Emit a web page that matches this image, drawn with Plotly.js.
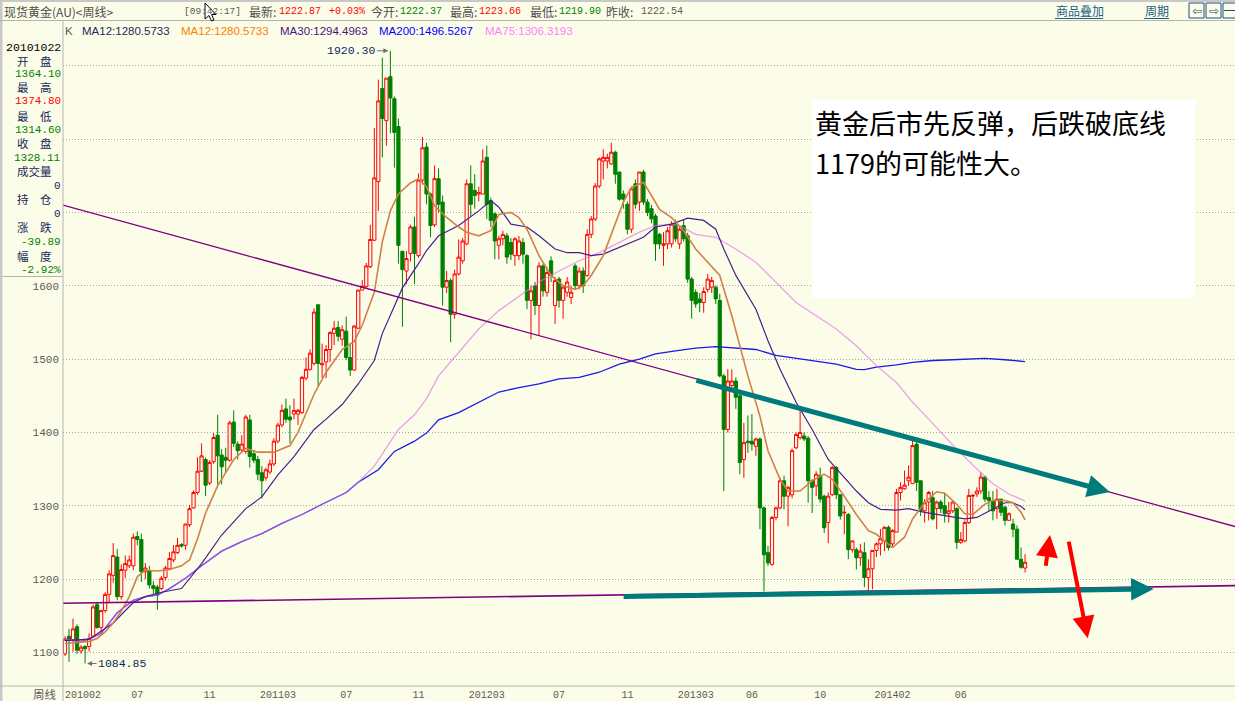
<!DOCTYPE html>
<html><head><meta charset="utf-8">
<script src="https://cdn.plot.ly/plotly-3.0.1.min.js"></script>
<style>html,body{margin:0;padding:0;background:#fcfde9;}#chart{width:1235px;height:701px;}</style>
</head><body><div id="chart"></div>
<script>
// ---------- weekly OHLC (spot gold, from 2010-02-26 onwards) ----------
const openP = [
1098,1122,1117,1135,1102,1108,1108,1122,1165,1134,
1157,1179,1205,1230,1176,1212,1218,1218,1258,1254,
1210,1211,1191,1189,1187,1202,1214,1226,1236,1247,
1246,1274,1297,1318,1347,1363,1331,1360,1396,1369,
1366,1362,1414,1384,1376,1374,1417,1371,1363,1345,
1338,1346,1357,1388,1410,1432,1421,1425,1425,1427,
1474,1486,1494,1574,1492,1496,1513,1535,1543,1527,
1538,1502,1485,1542,1594,1599,1626,1662,1742,1869,
1825,1885,1855,1817,1647,1620,1644,1680,1641,1744,
1789,1725,1683,1746,1714,1598,1607,1561,1616,1634,
1657,1739,1730,1725,1725,1775,1716,1698,1655,1664,
1668,1659,1641,1641,1659,1641,1580,1600,1573,1627,
1591,1634,1573,1609,1580,1591,1584,1627,1600,1620,
1614,1670,1691,1736,1770,1770,1766,1782,1755,1725,
1711,1677,1739,1714,1755,1714,1705,1695,1670,1655,
1657,1657,1684,1657,1682,1668,1609,1591,1582,1577,
1595,1598,1598,1580,1477,1404,1464,1470,1450,1363,
1388,1388,1381,1391,1297,1236,1220,1284,1297,1334,
1313,1315,1379,1393,1395,1392,1334,1327,1341,1313,
1277,1315,1352,1315,1290,1288,1240,1240,1229,1236,
1202,1214,1239,1248,1252,1270.5,1248,1264,1318,1323,
1334,1330,1384,1334,1293,1305,1311,1296,1305,1300,
1289,1293,1296,1250,1252,1277,1313,1316,1320,1339,
1311,1307,1296,1309,1298,1280,1275,1268,1227,1215];
const highP = [
1122,1132,1146,1138,1110,1110,1126,1165,1168,1158,
1182,1212,1249,1241,1220,1232,1232,1262,1265,1262,
1222,1218,1197,1192,1204,1218,1237,1246,1256,1249,
1275,1301,1321,1366,1385,1366,1362,1399,1424,1377,
1379,1416,1430,1388,1396,1424,1424,1376,1368,1354,
1352,1363,1392,1413,1438,1446,1437,1446,1432,1477,
1502,1513,1569,1574,1521,1519,1538,1552,1552,1546,
1558,1521,1546,1594,1608,1631,1683,1815,1881,1911,
1883,1920.3,1858,1828,1647,1647,1683,1694,1753,1803,
1795,1727,1764,1760,1723,1620,1610,1622,1663,1665,
1745,1764,1752,1735,1786,1791,1720,1700,1668,1675,
1672,1665,1666,1668,1665,1643,1600,1605,1632,1630,
1625,1640,1612,1612,1600,1612,1600,1630,1625,1625,
1677,1695,1740,1775,1786,1780,1795,1784,1755,1730,
1715,1735,1745,1755,1758,1718,1710,1698,1672,1673,
1680,1688,1690,1680,1690,1672,1612,1595,1590,1598,
1616,1612,1600,1589,1480,1486,1486,1475,1452,1413,
1423,1425,1393,1393,1299,1245,1286,1299,1338,1341,
1327,1378,1400,1434,1400,1395,1336,1347,1352,1315,
1318,1354,1354,1315,1300,1290,1252,1243,1248,1250,
1227,1239,1250,1268,1272,1273,1268,1323,1332,1348,
1355,1389,1391,1334,1309,1320,1320,1307,1308,1316,
1305,1306,1298,1264,1280,1323,1316,1325,1345.5,1341,
1320,1320,1323,1309,1300,1291,1282,1273,1243,1234];
const lowP = [
1095,1087,1101,1098,1098,1084.85,1101,1120,1132,1126,
1154,1168,1195,1171,1172,1201,1215,1212,1246,1196,
1200,1187,1180,1158,1185,1198,1212,1223,1234,1243,
1240,1271,1296,1315,1346,1313,1328,1357,1329,1329,
1346,1360,1380,1363,1372,1371,1352,1358,1335,1310,
1334,1343,1354,1385,1407,1413,1385,1418,1410,1425,
1471,1484,1491,1463,1474,1474,1496,1519,1524,1518,
1499,1477,1484,1541,1594,1597,1624,1661,1702,1775,
1791,1808,1761,1630,1544,1602,1633,1602,1638,1738,
1711,1666,1680,1700,1573,1590,1523,1555,1614,1630,
1655,1695,1705,1715,1725,1691,1680,1636,1636,1655,
1630,1635,1627,1635,1630,1568,1527,1560,1532,1585,
1585,1605,1548,1570,1555,1585,1575,1595,1595,1590,
1612,1665,1688,1733,1745,1760,1765,1739,1716,1705,
1670,1672,1705,1702,1710,1695,1685,1634,1650,1627,
1650,1652,1660,1650,1660,1604,1555,1570,1564,1563,
1591,1590,1575,1475,1320,1400,1455,1432,1343,1338,
1372,1375,1368,1268,1183,1218,1218,1280,1295,1295,
1272,1310,1377,1390,1388,1304,1290,1313,1304,1263,
1249,1313,1309,1281,1261,1227,1236,1213,1218,1189,
1184,1186,1230,1232,1238,1239,1245,1264,1307,1322,
1327,1330,1320,1286,1277,1280,1280,1268,1290,1277,
1277,1290,1241,1248,1250,1275,1282,1312,1316,1305,
1293,1280,1282,1286,1273,1280,1257,1227,1214,1209];
const closeP = [
1118,1118,1132,1103,1107,1105,1119,1162,1134,1157,
1179,1207,1232,1176,1213,1221,1226,1257,1254,1210,
1215,1192,1187,1178,1201,1215,1228,1237,1246,1245,
1275,1296,1318,1347,1368,1328,1359,1393,1368,1353,
1362,1413,1385,1375,1384,1421,1367,1362,1343,1334,
1349,1357,1388,1410,1430,1418,1417,1430,1430,1475,
1486,1508,1564,1494,1494,1513,1536,1542,1531,1540,
1502,1485,1545,1594,1599,1627,1663,1747,1852,1828,
1883,1856,1809,1655,1622,1637,1680,1644,1744,1788,
1725,1682,1746,1711,1598,1607,1561,1616,1639,1661,
1739,1711,1723,1727,1770,1711,1689,1661,1664,1670,
1639,1643,1664,1661,1643,1580,1593,1573,1627,1593,
1618,1614,1607,1580,1598,1605,1591,1600,1620,1600,
1670,1691,1736,1773,1775,1775,1782,1752,1718,1718,
1677,1732,1711,1755,1714,1700,1691,1657,1657,1657,
1675,1684,1664,1677,1664,1609,1580,1575,1577,1592,
1609,1607,1582,1477,1404,1470,1470,1448,1359,1386,
1386,1384,1391,1297,1233,1222,1284,1297,1334,1313,
1325,1375,1397,1400,1391,1334,1325,1343,1309,1270,
1313,1352,1315,1286,1291,1240,1252,1229,1238,1202,
1214,1239,1248,1255,1270.5,1243,1266,1318,1325,1328,
1339,1382,1332,1293,1304,1318,1282,1305,1296,1289,
1293,1305,1250,1254,1277,1314,1314,1320,1339,1309,
1307,1293,1309,1291,1280,1289,1268,1227,1216,1222.87];

// ---------- moving averages: [week, value] ----------
const ma12Pts = [[0,1112],[3,1113],[6,1115],[8,1119],[10,1128],[12,1140],[14,1156],[16,1176],[18,1203],[20,1212],[23,1211],[26,1213],[29,1218],[31,1226],[33,1255],[35,1290],[38,1327],[42,1363],[45,1378],[48,1373],[52,1373],[56,1382],[58,1400],[62,1452],[65,1482],[69,1513],[72,1524],[74,1546],[77,1591],[79,1660],[81,1702],[83,1725],[86,1740],[88,1746],[90,1735],[92,1709],[95,1693],[98,1680],[100,1673],[103,1668],[106,1675],[108,1697],[111,1700],[113,1693],[115,1677],[118,1641],[121,1614],[124,1600],[127,1595],[129,1600],[131,1614],[134,1641],[137,1686],[139,1714],[141,1734],[144,1741],[146,1723],[148,1704],[151,1693],[154,1675],[157,1650],[160,1632],[163,1614],[166,1559],[170,1477],[173,1422],[175,1375],[178,1336],[180,1320],[183,1320],[186,1334],[189,1343],[191,1336],[194,1313],[197,1288],[200,1266],[202,1261],[206,1243],[209,1257],[211,1282],[214,1304],[217,1319],[219,1317],[222,1302],[224,1289],[226,1288],[229,1302],[231,1307],[234,1307],[236,1304],[238,1291],[239,1280.57]];
const ma30Pts = [[0,1116],[6,1118],[12,1140],[17,1168],[20,1176],[24,1182],[29,1187],[34,1221],[39,1260],[45,1296],[49,1312],[53,1342],[57,1367],[62,1404],[65,1418],[69,1438],[73,1466],[77,1498],[79,1535],[82,1571],[84,1597],[88,1630],[90,1648],[93,1668],[98,1682],[103,1702],[106,1716],[108,1707],[111,1684],[115,1680],[118,1668],[122,1650],[125,1645],[128,1645],[131,1641],[134,1643],[137,1650],[140,1657],[144,1666],[147,1680],[151,1684],[155,1692],[159,1689],[162,1677],[164,1650],[167,1614],[172,1568],[175,1525],[178,1486],[182,1441],[186,1404],[190,1363],[193,1345],[197,1320],[200,1304],[203,1295],[207,1294],[210,1296],[214,1291],[219,1287],[224,1282],[227,1284],[231,1295],[234,1304],[236,1304],[238,1299],[239,1294.5]];
const ma75Pts = [[0,1118],[4,1115],[6,1118],[9,1126],[13,1154],[17,1171],[20,1176],[23,1178],[26,1187],[30,1201],[34,1218],[39,1238],[44,1251],[49,1262],[54,1276],[59,1288],[64,1302],[67,1310],[70,1318],[73,1332],[77,1354],[80,1379],[83,1404],[87,1424],[90,1446],[93,1477],[98,1509],[103,1541],[108,1566],[113,1586],[118,1605],[123,1620],[128,1634],[133,1645],[138,1659],[143,1673],[147,1682],[151,1684],[153,1682],[157,1670],[162,1666],[167,1650],[172,1632],[177,1605],[182,1577],[187,1559],[192,1541],[197,1518],[202,1491],[207,1468],[211,1441],[215,1418],[222,1377],[227,1350],[231,1330],[235,1316],[239,1306.3]];
const ma200Pts = [[0,1118],[4,1115],[6,1118],[9,1126],[13,1154],[17,1171],[20,1176],[23,1178],[26,1187],[30,1201],[34,1218],[39,1238],[44,1251],[49,1262],[54,1276],[59,1288],[64,1302],[67,1310],[70,1318],[73,1332],[78,1349],[82,1374],[87,1388],[90,1399],[93,1417],[98,1427],[103,1441],[108,1455],[113,1461],[118,1466],[123,1473],[128,1475],[133,1482],[138,1493],[143,1500],[147,1507],[152,1511],[157,1515],[162,1517],[167,1515],[172,1513],[177,1505],[182,1501],[187,1498],[192,1493],[197,1486],[199,1485.5],[202,1489],[207,1492],[211,1495.5],[216,1498],[221,1499],[226,1500],[229,1501],[234,1499],[239,1496.5]];

// ---------- hand-drawn lines (week, price) ----------
const resistanceX = [-0.5, 291.3], resistanceY = [1709.8, 1271.6];
const supportX = [-0.5, 291.3], supportY = [1166.9, 1191.0];
const upperArrowX = [156.8, 260.1], upperArrowY = [1471.4, 1318.7];
const lowerArrowX = [138.7, 271.0], lowerArrowY = [1176.2, 1186.4];
const redUpX = [244.1, 245.2], redUpY = [1216, 1260];
const redDownX = [249.8, 254.6], redDownY = [1253.2, 1119.2];

// ---------- axes ----------
const monthTickWeeks = [4.5,18,36,53,70,88,105,123,140,157,171,188,206,223];
const monthTickLabels = ['201002','07','11','201103','07','11','201203','07','11','201303','06','10','201402','06'];
const priceTicks = [1100,1200,1300,1400,1500,1600,1700,1800,1900];
const priceTickLabels = ['1100','1200','1300','1400','1500','1600','','',''];

// ---------- texts ----------
const legendItems = [['K','#5a5a5a'],['MA12:1280.5733','#1b2a5e'],['MA12:1280.5733','#ff8000'],['MA30:1294.4963','#4a1480'],['MA200:1496.5267','#0000ff'],['MA75:1306.3193','#ff80ff']];
const infoRows = [['20101022','#000000','num'],['开　盘','#14285a','lab'],['1364.10','#008000','num'],['最　高','#14285a','lab'],['1374.80','#ff0000','num'],['最　低','#14285a','lab'],['1314.60','#008000','num'],['收　盘','#14285a','lab'],['1328.11','#008000','num'],['成交量','#14285a','lab'],['0','#14285a','num'],['持　仓','#14285a','lab'],['0','#14285a','num'],['涨　跌','#14285a','lab'],['-39.89','#008000','num'],['幅　度','#14285a','lab'],['-2.92%','#008000','num']];
const commentLines = ['黄金后市先反弹，后跌破底线','1179的可能性大。'];

// =====================================================================
const W = 1235, H = 701, BG = '#fcfde9';
const MONO = '"Liberation Mono","DejaVu Sans Mono",monospace';
const CJK = '"Noto Sans CJK SC","Noto Sans",sans-serif';
const SANS = '"Liberation Sans",Arial,sans-serif';
const PX = x => x / W, PY = y => 1 - y / H;
const plotTop = 21, plotBottom = 686, plotLeft = 63;
const weeks = openP.map((_, i) => i);

const annotations = [];
const shapes = [];
function txt(text, x, y, family, size, color, anchor) {
  annotations.push({xref:'paper', yref:'paper', x:PX(x), y:PY(y), text:text, showarrow:false,
    xanchor:anchor || 'left', yanchor:'middle', borderpad:0,
    font:{family:family, size:size, color:color}});
}
function rect(x0,y0,x1,y1,fill,line,layer){
  shapes.push({type:'rect', xref:'paper', yref:'paper', x0:PX(x0), x1:PX(x1), y0:PY(y0), y1:PY(y1),
    fillcolor:fill, line:{color:line||'rgba(0,0,0,0)', width:line?1:0}, layer:layer||'above'});
}
function hline(x0,x1,y,color){ shapes.push({type:'line', xref:'paper', yref:'paper', x0:PX(x0), x1:PX(x1), y0:PY(y), y1:PY(y), line:{color:color, width:1}}); }
function vline(x,y0,y1,color){ shapes.push({type:'line', xref:'paper', yref:'paper', x0:PX(x), x1:PX(x), y0:PY(y0), y1:PY(y1), line:{color:color, width:1}}); }

// frame
rect(0,0,W,2,'#c8c8c8');
rect(0,0,2.5,H,'#c8c8c8');
hline(0,W,20.5,'#b4b4b4');
vline(63,21,H,'#b4b4b4');
hline(2.5,63,276.5,'#b4b4b4');
hline(0,W,686,'#b4b4b4');
// comment box
rect(812,100,1195,298,'#ffffff',null,'above');

// header
const gray='#4e4e4e', red='#ff0000', green='#008000';
txt('现货黄金(AU)&lt;周线&gt;',3,11.5,CJK,12,gray);
txt('[09:42:17]',183,11.5,MONO,9.5,'#5a5a5a');
txt('最新:',248,11.5,CJK,12,gray); txt('1222.87',278,11.5,MONO,10,red); txt('+0.03%',328,11.5,MONO,10,red);
txt('今开:',370,11.5,CJK,12,gray); txt('1222.37',399,11.5,MONO,10,green);
txt('最高:',449,11.5,CJK,12,gray); txt('1223.66',478,11.5,MONO,10,red);
txt('最低:',529,11.5,CJK,12,gray); txt('1219.90',558,11.5,MONO,10,green);
txt('昨收:',605,11.5,CJK,12,gray); txt('1222.54',640,11.5,MONO,10,'#5a5a5a');
txt('商品叠加',1055,11,CJK,12,'#1a5f8c'); hline(1055,1103,18.5,'#1a5f8c');
txt('周期',1144,11,CJK,12,'#1a5f8c'); hline(1144,1169,18.5,'#1a5f8c');
rect(1189,3,1204,18,'rgba(0,0,0,0)','#1f4f7f'); rect(1206,3,1221,18,'rgba(0,0,0,0)','#1f4f7f'); rect(1223,3,1236,18,'rgba(0,0,0,0)','#1f4f7f');
txt('⇦',1196.5,10.5,'"DejaVu Sans"',12,'#1f4f7f','center'); txt('⇨',1213.5,10.5,'"DejaVu Sans"',12,'#1f4f7f','center');
hline(1224,1236,10.5,'#1f4f7f');
// mouse cursor
const cur = [[205,3],[205,19],[209,15.5],[211.5,21],[214,20],[211.5,14.5],[216,14.5]];
shapes.push({type:'path', xref:'paper', yref:'paper', path:'M'+cur.map(p=>PX(p[0])+','+PY(p[1])).join(' L')+' Z', fillcolor:'#ffffff', line:{color:'#000000', width:1}});

// MA legend row
const legendX = [64,81,180,279,378,484];
legendItems.forEach((it,k)=>txt(it[0],legendX[k],31.5,SANS,11.5,it[1]));

// info panel
const rowY = [47.3,60.7,74,87.3,101.5,115.7,130,143.3,157.8,170.7,186,199,214.3,227.3,242.2,255.7,270.5];
infoRows.forEach((r,k)=>{
  if(r[2]==='lab') txt(r[0],34,rowY[k],CJK,11.5,r[1],'center');
  else txt(r[0],61.5,rowY[k],MONO,k===0?11.5:11,r[1],'right');
});
txt('周线',58,694,CJK,11.5,'#5a5a5a','right');

// comment text
txt(commentLines[0],814,122.5,CJK,27,'#000000');
txt(commentLines[1],814,162.5,CJK,27,'#000000');

// extreme labels
const hiIdx = highP.indexOf(Math.max(...highP));
const loIdx = lowP.indexOf(Math.min(...lowP));
annotations.push({x:hiIdx, y:highP[hiIdx], xref:'x', yref:'y', text:highP[hiIdx].toFixed(2), showarrow:true,
  ax:-39, ay:0, arrowhead:2, arrowsize:1, arrowwidth:1, arrowcolor:'#6e6e6e', standoff:2,
  font:{family:MONO, size:11.5, color:'#0c2a5c'}});
annotations.push({x:loIdx, y:lowP[loIdx], xref:'x', yref:'y', text:lowP[loIdx].toFixed(2), showarrow:true,
  ax:37, ay:0, arrowhead:2, arrowsize:1, arrowwidth:1, arrowcolor:'#6e6e6e', standoff:2,
  font:{family:MONO, size:11.5, color:'#0c2a5c'}});

// drawn arrows
function arrow(xs, ys, color, width, size){
  annotations.push({x:xs[1], y:ys[1], ax:xs[0], ay:ys[0], xref:'x', yref:'y', axref:'x', ayref:'y',
    text:'', showarrow:true, arrowhead:2, arrowsize:size, arrowwidth:width, arrowcolor:color});
}
arrow(upperArrowX, upperArrowY, '#007b7b', 5, 0.9);
arrow(lowerArrowX, lowerArrowY, '#007b7b', 5, 0.9);
arrow(redUpX, redUpY, '#ff0000', 4, 1.1);
arrow(redDownX, redDownY, '#ff0000', 4, 1.1);

const maTrace = (pts, color, width, opacity) => ({type:'scatter', mode:'lines', x:pts.map(p=>p[0]), y:pts.map(p=>p[1]),
  line:{color:color, width:width}, opacity:opacity||1, hoverinfo:'skip', showlegend:false});

const data = [
  {type:'candlestick', x:weeks, open:openP, high:highP, low:lowP, close:closeP,
   increasing:{line:{color:'#ff0000', width:1}, fillcolor:BG},
   decreasing:{line:{color:'#008000', width:1}, fillcolor:'#008000'},
   whiskerwidth:0, hoverinfo:'skip', showlegend:false},
  maTrace(ma200Pts,'#1a1ae6',1.3),
  maTrace(ma75Pts,'#e070e8',1.3,0.65),
  maTrace(ma30Pts,'#4b1d8c',1.2),
  maTrace(ma12Pts,'#d2804a',1.6),
  {type:'scatter', mode:'lines', x:resistanceX, y:resistanceY, line:{color:'#800080', width:1.3}, hoverinfo:'skip', showlegend:false},
  {type:'scatter', mode:'lines', x:supportX, y:supportY, line:{color:'#800080', width:1.6}, hoverinfo:'skip', showlegend:false}
];

const pxPerWeek = 4.017;
const xr0 = (plotLeft - 65) / pxPerWeek;
const xr1 = xr0 + (W - plotLeft) / pxPerWeek;
const layout = {
  width:W, height:H, margin:{l:0,r:0,t:0,b:0}, paper_bgcolor:BG, plot_bgcolor:BG,
  showlegend:false, boxgap:0.2, boxgroupgap:0,
  xaxis:{domain:[plotLeft/W,1], range:[xr0,xr1], showgrid:false, zeroline:false, showline:false,
    tickvals:monthTickWeeks, ticktext:monthTickLabels, ticks:'', ticklabelstandoff:1,
    tickfont:{family:MONO, size:10, color:'#5a5a5a'}, rangeslider:{visible:false}, fixedrange:true},
  yaxis:{domain:[(H-plotBottom)/H,(H-plotTop)/H],
    range:[1600-(plotBottom-285.7)/0.73333, 1600+(285.7-plotTop)/0.73333],
    tickvals:priceTicks, ticktext:priceTickLabels, ticks:'', ticklabelstandoff:3,
    showgrid:true, gridcolor:'#a8a8a8', griddash:'1px,2px', gridwidth:1,
    zeroline:false, showline:false, tickfont:{family:MONO, size:11, color:'#5a5a5a'}, fixedrange:true},
  shapes:shapes, annotations:annotations
};
Plotly.newPlot('chart', data, layout, {staticPlot:true, displayModeBar:false});
</script></body></html>
